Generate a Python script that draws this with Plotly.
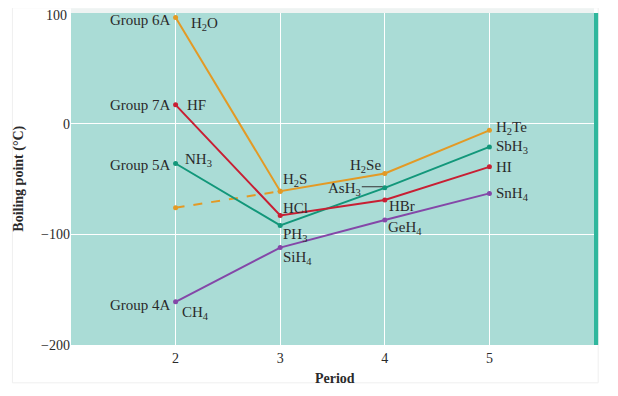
import plotly.graph_objects as go

periods = [2, 3, 4, 5]
group6a = [96, -61, -45, -6]
group7a = [17, -83, -69, -39]
group5a = [-36, -92, -58, -21]
group4a = [-161, -112, -87, -63]
dashed_x = [2, 3]
dashed_y = [-76, -61]

y_tickvals = [-200, -100, 0, 100]
y_ticktext = ["\u2212200", "\u2212100", "0", "100"]

names6a = ["H<sub>2</sub>O", "H<sub>2</sub>S", "H<sub>2</sub>Se", "H<sub>2</sub>Te"]
names7a = ["HF", "HCl", "HBr", "HI"]
names5a = ["NH<sub>3</sub>", "PH<sub>3</sub>", "AsH<sub>3</sub>", "SbH<sub>3</sub>"]
names4a = ["CH<sub>4</sub>", "SiH<sub>4</sub>", "GeH<sub>4</sub>", "SnH<sub>4</sub>"]
group_labels = ["Group 6A", "Group 7A", "Group 5A", "Group 4A"]

C6 = "#E39A25"
C7 = "#C81F33"
C5 = "#12977A"
C4 = "#8447A8"
FONT = "Liberation Serif"
TXT = "#2a2a2a"

fig = go.Figure()
fig.add_trace(go.Scatter(x=dashed_x, y=dashed_y, mode="lines+markers",
                         line=dict(color=C6, width=2, dash="dash"),
                         marker=dict(size=5, color=C6), showlegend=False))
for ys, c in [(group4a, C4), (group5a, C5), (group7a, C7), (group6a, C6)]:
    fig.add_trace(go.Scatter(x=periods, y=ys, mode="lines+markers",
                             line=dict(color=c, width=2),
                             marker=dict(size=5, color=c), showlegend=False))

ann = []
def A(x, y, text, xanchor="left", xs=0, ys=0):
    ann.append(dict(x=x, y=y, text=text, showarrow=False, xanchor=xanchor,
                    yanchor="middle", xshift=xs, yshift=ys,
                    font=dict(family=FONT, size=15, color=TXT)))

# group labels
gshift = [-3, 0, -1, -3]
for lab, ys_, g in zip(group_labels, [group6a, group7a, group5a, group4a], gshift):
    A(2, ys_[0], lab, "right", -3, g)
A(2, group6a[0], names6a[0], "left", 13, -7)
A(2, group7a[0], names7a[0], "left", 9, 0)
A(2, group5a[0], names5a[0], "left", 7, 4)
A(2, group4a[0], names4a[0], "left", 4, -11)
# period 3
A(3, group6a[1], names6a[1], "left", 1, 11)
A(3, group7a[1], names7a[1], "left", 1, 8)
A(3, group5a[1], names5a[1], "left", 1, -10)
A(3, group4a[1], names4a[1], "left", 1, -10)
# period 4
A(4, group6a[2], names6a[2], "center", -19, 7)
A(4, group5a[2], names5a[2], "right", -22, -1)
A(4, group7a[2], names7a[2], "left", 2, -6)
A(4, group4a[2], names4a[2], "left", 1, -8)
# period 5
A(5, group6a[3], names6a[3], "left", 5, 2)
A(5, group5a[3], names5a[3], "left", 5, 0)
A(5, group7a[3], names7a[3], "left", 5, 0)
A(5, group4a[3], names4a[3], "left", 5, -1)

# top tick label drawn as annotation so it is not clipped at the page edge
ann.append(dict(xref="paper", yref="y", x=0, y=y_tickvals[-1], text=y_ticktext[-1],
                showarrow=False, xanchor="right", yanchor="middle", xshift=-2, yshift=-2,
                font=dict(family=FONT, size=14, color=TXT)))

# axis titles
ann.append(dict(xref="paper", yref="paper", x=-0.1, y=0.5, text="<b>Boiling point (\u00b0C)</b>",
                textangle=-90, showarrow=False, xanchor="center", yanchor="middle",
                font=dict(family=FONT, size=14, color=TXT)))
ann.append(dict(xref="paper", yref="paper", x=0.505, y=-0.1, text="<b>Period</b>",
                showarrow=False, xanchor="center", yanchor="middle",
                font=dict(family=FONT, size=14, color=TXT)))

fig.update_layout(
    width=610, height=388,
    margin=dict(l=63, r=24, t=5, b=51),
    paper_bgcolor="#ffffff",
    plot_bgcolor="#AADCD6",
    annotations=ann,
    font=dict(family=FONT, size=14, color=TXT),
    xaxis=dict(range=[1, 6], tickvals=periods, ticktext=[str(p) for p in periods],
               showgrid=True, gridcolor="#ffffff", gridwidth=1, zeroline=False,
               showline=False, ticks="", automargin=False, ticklabelstandoff=3,
               tickfont=dict(family=FONT, size=14, color=TXT)),
    yaxis=dict(range=[-200, 100], tickvals=y_tickvals,
               ticktext=y_ticktext[:-1] + [""],
               showgrid=True, gridcolor="#ffffff", gridwidth=1, zeroline=False,
               showline=False, ticks="", automargin=False,
               tickfont=dict(family=FONT, size=14, color=TXT)),
    shapes=[
        dict(type="rect", xref="paper", yref="paper", x0=-0.112, x1=1.008, y0=-0.114, y1=1.016,
             fillcolor="rgba(0,0,0,0)", line=dict(width=1, color="#efefef"), layer="below"),
        dict(type="rect", xref="paper", yref="paper", x0=1.0, x1=1.008, y0=0, y1=1.0,
             fillcolor="#2FB79D", line=dict(width=0), layer="above"),
        dict(type="rect", xref="paper", yref="paper", x0=0, x1=1.0, y0=1.0, y1=1.014,
             fillcolor="#EEF3F2", line=dict(width=0), layer="above"),
        dict(type="line", xref="x", yref="y", x0=3.78, x1=3.98, y0=-57, y1=-57,
             line=dict(color="#333333", width=1)),
    ],
)
fig.write_html("out.html")
